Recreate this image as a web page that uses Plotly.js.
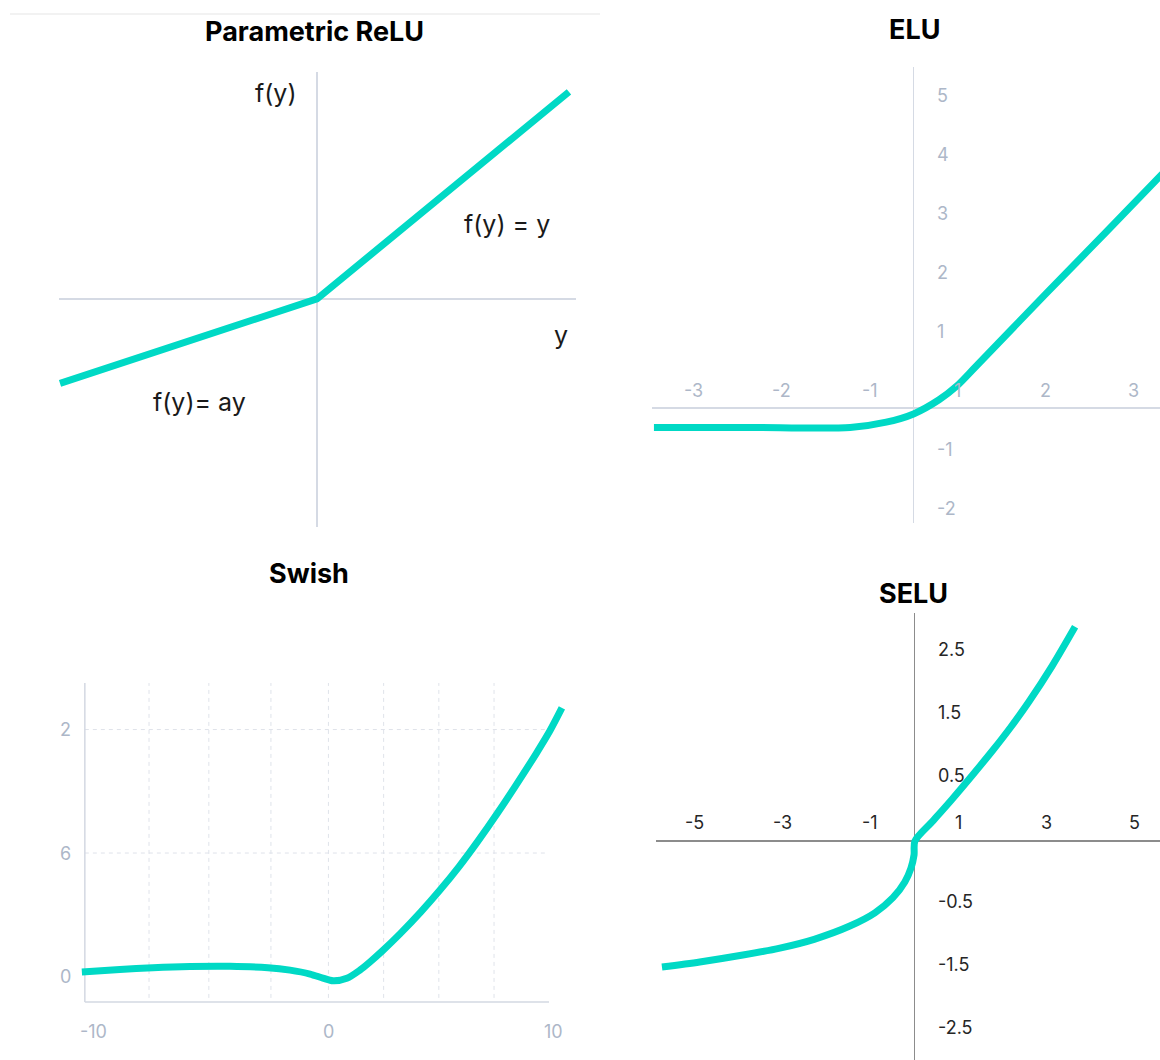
<!DOCTYPE html>
<html>
<head>
<meta charset="utf-8">
<script src="https://cdn.plot.ly/plotly-3.0.1.min.js"></script>
<style>
html,body{margin:0;padding:0;background:#ffffff;}
#chart{width:1160px;height:1060px;}
</style>
</head>
<body>
<div id="chart"></div>
<script>
// ---------- Data ----------
// Parametric ReLU
const preluX = [-5.1, 0, 5];
const preluY = [-2.04, 0, 5];
const preluLabels = ["f(y)", "f(y) = y", "y", "f(y)= ay"];

// ELU
const eluX = [-2.95, -1.86, -0.72, -0.31, 0.0, 0.29, 0.49, 0.70, 1.5, 2.2, 2.9];
const eluY = [-0.33, -0.33, -0.33, -0.24, -0.10, 0.14, 0.37, 0.69, 1.93, 3.0, 4.08];
const eluXTicks = [-3, -2, -1, 1, 2, 3];
const eluYTicks = [5, 4, 3, 2, 1, -1, -2];

// Swish
const swishX = [-10.72, -9.07, -7.63, -6.02, -4.28, -2.63, -1.67, -0.80, -0.24, 0.20, 0.80, 1.37, 1.80,
                2.37, 3.11, 4.02, 4.85, 5.67, 6.50, 7.33, 8.15, 9.02, 9.63, 10.15];
const swishY = [0.22, 0.34, 0.43, 0.49, 0.50, 0.43, 0.31, 0.12, -0.08, -0.21, -0.09, 0.31, 0.70,
                1.27, 2.07, 3.14, 4.20, 5.33, 6.58, 7.91, 9.29, 10.81, 11.94, 13.05];
const swishXTicks = [-10, 0, 10];
const swishYTicks = [0, 6, 12];
const swishYText = ["0", "6", "2"];
const swishGridX = [-7.8, -5.2, -2.5, 0, 2.4, 4.8, 7.2];
const swishGridY = [6, 12];

// SELU
const seluX = [-5.74, -4.88, -3.90, -3.06, -2.28, -1.47, -0.90, -0.49, -0.22, -0.08, -0.01, 0.01,
               0.42, 0.85, 1.31, 1.78, 2.19, 2.60, 3.13, 3.65];
const seluY = [-2.00, -1.92, -1.81, -1.70, -1.56, -1.35, -1.14, -0.90, -0.65, -0.43, -0.22, 0.0,
               0.32, 0.66, 1.04, 1.44, 1.81, 2.21, 2.78, 3.40];
const seluXTicks = [-5, -3, -1, 1, 3, 5];
const seluYTicks = [2.5, 1.5, 0.5, -0.5, -1.5, -2.5];

// ---------- Layout helpers ----------
const W = 1160, H = 1060;
const xd = (a, b) => [a / W, b / W];
const yd = (a, b) => [1 - b / H, 1 - a / H];
const teal = '#00D9C5';
const lightTick = {family: 'Inter, Roboto, sans-serif', size: 18, color: '#adb7c8'};
const darkTick = {family: 'Inter, Roboto, sans-serif', size: 18, color: '#262626'};
const sgn = v => (v > 0 ? 1 : -1);

function ax(domain, range, zl, zlColor) {
  return {
    domain: domain, range: range, showgrid: false, showticklabels: false,
    ticks: '', showline: false, zeroline: zl, zerolinecolor: zlColor || '#d5dae4',
    zerolinewidth: 1.3, fixedrange: true
  };
}

const lineStyle = {color: teal, width: 7, shape: 'spline', smoothing: 0.8};

const traces = [
  {x: preluX, y: preluY, xaxis: 'x', yaxis: 'y', mode: 'lines',
   line: {color: teal, width: 7, shape: 'linear'}, hoverinfo: 'skip'},
  {x: eluX, y: eluY, xaxis: 'x2', yaxis: 'y2', mode: 'lines', line: lineStyle, hoverinfo: 'skip'},
  {x: swishX, y: swishY, xaxis: 'x3', yaxis: 'y3', mode: 'lines', line: lineStyle, hoverinfo: 'skip'},
  {x: seluX, y: seluY, xaxis: 'x4', yaxis: 'y4', mode: 'lines', line: lineStyle, hoverinfo: 'skip'}
];

const annotations = [];
// titles
const titleFont = {family: 'Inter, Roboto, sans-serif', size: 27, color: '#000000', weight: 700};
[["Parametric ReLU", 314, 32], ["ELU", 914, 30], ["Swish", 309, 573], ["SELU", 913, 593]].forEach(t => {
  annotations.push({text: t[0], xref: 'paper', yref: 'paper', x: t[1] / W, y: 1 - t[2] / H,
    xanchor: 'center', yanchor: 'middle', showarrow: false, font: titleFont});
});

// PReLU labels
const labelFont = {family: 'Inter, Roboto, sans-serif', size: 25, color: '#1a1a1a'};
const preluLabelPos = [[-0.81, 4.98], [3.77, 1.81], [4.84, -0.87], [-2.33, -2.49]];
preluLabels.forEach((t, i) => {
  annotations.push({text: t, xref: 'x', yref: 'y', x: preluLabelPos[i][0], y: preluLabelPos[i][1],
    xanchor: 'center', yanchor: 'middle', showarrow: false, font: labelFont});
});

// ELU tick labels
eluXTicks.forEach(v => annotations.push({text: String(v), xref: 'x2', yref: 'y2',
  x: v - 0.5 * sgn(v), y: 0.305, xanchor: 'center', yanchor: 'middle', showarrow: false, font: lightTick}));
eluYTicks.forEach(v => annotations.push({text: String(v), xref: 'x2', yref: 'y2',
  x: 0.244, y: v + 0.30, xanchor: 'left', yanchor: 'middle', showarrow: false, font: lightTick}));

// Swish tick labels
swishXTicks.forEach(v => annotations.push({text: String(v), xref: 'x3', yref: 'y3',
  x: v, y: -2.65, xshift: v === 0 ? 0 : -5, xanchor: 'center', yanchor: 'middle', showarrow: false, font: lightTick}));
swishYTicks.forEach((v, i) => annotations.push({text: swishYText[i], xref: 'x3', yref: 'y3',
  x: -11.1, y: v, xanchor: 'right', yanchor: 'middle', showarrow: false, font: lightTick}));

// SELU tick labels
seluXTicks.forEach(v => annotations.push({text: String(v), xref: 'x4', yref: 'y4',
  x: v, y: 0.30, xanchor: 'center', yanchor: 'middle', showarrow: false, font: darkTick}));
seluYTicks.forEach(v => annotations.push({text: String(v), xref: 'x4', yref: 'y4',
  x: 0.50, y: v + 0.5 * sgn(v) + 0.04, xanchor: 'left', yanchor: 'middle', showarrow: false, font: darkTick}));

// Shapes
const shapes = [
  {type: 'line', xref: 'paper', yref: 'paper', x0: 10 / W, x1: 600 / W, y0: 1 - 14 / H, y1: 1 - 14 / H,
   line: {color: '#f2f2f2', width: 2}, layer: 'below'}
];
// Swish axes (left and bottom) and dashed grid
const swLeft = -10.59, swBottom = -1.24, swTop = 14.26, swRight = 9.59;
swishGridX.forEach(v => shapes.push({type: 'line', xref: 'x3', yref: 'y3', x0: v, x1: v, y0: swBottom + 0.2, y1: swTop,
  line: {color: '#dfe3ea', width: 1, dash: '4px,4px'}, layer: 'below'}));
swishGridY.forEach(v => shapes.push({type: 'line', xref: 'x3', yref: 'y3', x0: swLeft, x1: 9.5, y0: v, y1: v,
  line: {color: '#dfe3ea', width: 1, dash: '4px,4px'}, layer: 'below'}));
shapes.push({type: 'line', xref: 'x3', yref: 'y3', x0: swLeft, x1: swLeft, y0: swBottom, y1: swTop,
  line: {color: '#d3d8e2', width: 1.5}, layer: 'below'});
shapes.push({type: 'line', xref: 'x3', yref: 'y3', x0: swLeft, x1: swRight, y0: swBottom, y1: swBottom,
  line: {color: '#d3d8e2', width: 1.5}, layer: 'below'});

const layout = {
  width: W, height: H,
  margin: {l: 0, r: 0, t: 0, b: 0, pad: 0},
  paper_bgcolor: '#ffffff', plot_bgcolor: 'rgba(0,0,0,0)',
  showlegend: false,
  xaxis: Object.assign(ax(xd(59, 576), [-5.12, 5.14], true), {anchor: 'y'}),
  yaxis: Object.assign(ax(yd(72, 527), [-5.51, 5.48], true), {anchor: 'x'}),
  xaxis2: Object.assign(ax(xd(652, 1160), [-2.972, 2.801], true), {anchor: 'y2'}),
  yaxis2: Object.assign(ax(yd(67, 523), [-1.949, 5.780], true), {anchor: 'x2'}),
  xaxis3: Object.assign(ax(xd(40, 575), [-12.54, 10.72], false), {anchor: 'y3'}),
  yaxis3: Object.assign(ax(yd(680, 1050), [-3.571, 14.407], false), {anchor: 'x3'}),
  xaxis4: Object.assign(ax(xd(656, 1160), [-5.875, 5.58], true, '#8c8c8c'), {anchor: 'y4'}),
  yaxis4: Object.assign(ax(yd(613, 1060), [-3.476, 3.619], true, '#8c8c8c'), {anchor: 'x4'}),
  annotations: annotations,
  shapes: shapes
};

Plotly.newPlot('chart', traces, layout, {displayModeBar: false, staticPlot: true});
</script>
</body>
</html>
